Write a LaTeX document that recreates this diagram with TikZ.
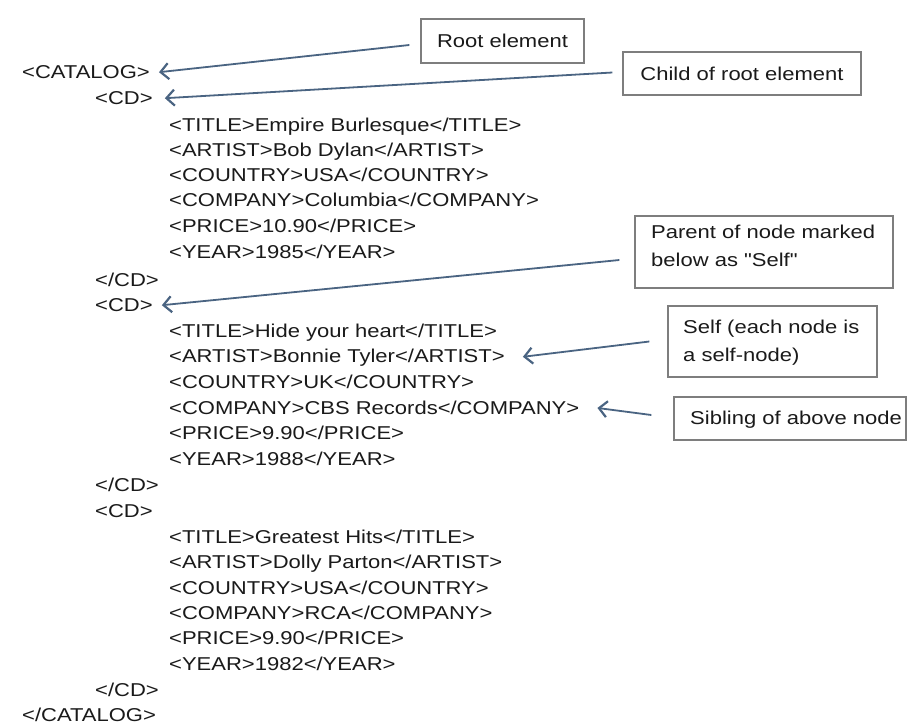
\documentclass[tikz,border=0pt]{standalone}
\usepackage{fontspec}
\setmainfont[FakeStretch=1.183,Ligatures=TeXOff]{Liberation Sans}
\usetikzlibrary{arrows.meta}
\definecolor{txt}{HTML}{1A1A1A}
\definecolor{arrc}{HTML}{4A6482}
\definecolor{boxc}{HTML}{7E7E7E}
\tikzset{
  code/.style={anchor=base west, inner sep=0pt, text=txt, font=\fontsize{18.6}{28}\selectfont},
  lbltext/.style={anchor=base west, inner sep=0pt, text=txt, font=\fontsize{18.6}{28}\selectfont},
  lbl/.style={draw=boxc, line width=1.3pt, text=txt, inner sep=0pt, font=\fontsize{18.6}{28}\selectfont, text height=13.3pt, text depth=0pt},
  arr/.style={draw=arrc, line width=1.8pt, -{Straight Barb[length=8pt,width=16pt,line width=2.2pt]}}
}
\begin{document}
\begin{tikzpicture}[x=1pt,y=-1pt]
\useasboundingbox[fill=white] (0,0) rectangle (907,724);
% code listing
\node[code] (catalog) at (22,78.6) {<CATALOG>};
\node[code] (cdA) at (95,104.6) {<CD>};
\node[code] (a1) at (169,131.6) {<TITLE>Empire Burlesque</TITLE>};
\node[code] (a2) at (169,156.6) {<ARTIST>Bob Dylan</ARTIST>};
\node[code] (a3) at (169,181.6) {<COUNTRY>USA</COUNTRY>};
\node[code] (a4) at (169,206.6) {<COMPANY>Columbia</COMPANY>};
\node[code] (a5) at (169,232.6) {<PRICE>10.90</PRICE>};
\node[code] (a6) at (169,258.6) {<YEAR>1985</YEAR>};
\node[code] (cdAend) at (95,286.6) {</CD>};
\node[code] (cdB) at (95,311.6) {<CD>};
\node[code] (b1) at (169,337.6) {<TITLE>Hide your heart</TITLE>};
\node[code] (artistB) at (169,362.6) {<ARTIST>Bonnie Tyler</ARTIST>};
\node[code] (b3) at (169,388.6) {<COUNTRY>UK</COUNTRY>};
\node[code] (companyB) at (169,414.6) {<COMPANY>CBS Records</COMPANY>};
\node[code] (b5) at (169,439.6) {<PRICE>9.90</PRICE>};
\node[code] (b6) at (169,465.6) {<YEAR>1988</YEAR>};
\node[code] (cdBend) at (95,491.6) {</CD>};
\node[code] (cdC) at (95,517.6) {<CD>};
\node[code] (c1) at (169,543.6) {<TITLE>Greatest Hits</TITLE>};
\node[code] (c2) at (169,568.6) {<ARTIST>Dolly Parton</ARTIST>};
\node[code] (c3) at (169,594.6) {<COUNTRY>USA</COUNTRY>};
\node[code] (c4) at (169,619.6) {<COMPANY>RCA</COMPANY>};
\node[code] (c5) at (169,644.6) {<PRICE>9.90</PRICE>};
\node[code] (c6) at (169,670.6) {<YEAR>1982</YEAR>};
\node[code] (cdCend) at (95,696.6) {</CD>};
\node[code] (catalogend) at (22,721.6) {</CATALOG>};
% label boxes
\node[lbl, minimum width=163pt, minimum height=44pt] (root) at (502.5,41) {Root element};
\node[lbl, minimum width=238pt, minimum height=43pt] (child) at (742,73.5) {Child of root element};
\node[lbl, minimum width=258pt, minimum height=72pt] (parent) at (764,252) {};
\node[lbltext] (parentA) at (651,238.6) {Parent of node marked};
\node[lbltext] (parentB) at (651,266.6) {below as "Self"};
\node[lbl, minimum width=209pt, minimum height=71pt] (self) at (772.5,341.5) {};
\node[lbltext] (selfA) at (683,333.6) {Self (each node is};
\node[lbltext] (selfB) at (683,361.6) {a self-node)};
\node[lbl, minimum width=232pt, minimum height=43pt] (sib) at (790,418.5) {};
\node[lbltext] (sibA) at (690,424.6) {Sibling of above node};
% connectors
\draw[arr] ([xshift=-11pt,yshift=-4pt]root.west) -- ([xshift=9pt]catalog.east);
\draw[arr] ([xshift=-10pt,yshift=1pt]child.west) -- ([xshift=12pt]cdA.east);
\draw[arr] ([xshift=-15pt,yshift=-8pt]parent.west) -- ([xshift=9pt]cdB.east);
\draw[arr] ([xshift=-18pt]self.west) -- ([xshift=18pt,yshift=1pt]artistB.east);
\draw[arr] ([xshift=-22pt,yshift=3.5pt]sib.west) -- ([xshift=18pt]companyB.east);
\end{tikzpicture}
\end{document}
